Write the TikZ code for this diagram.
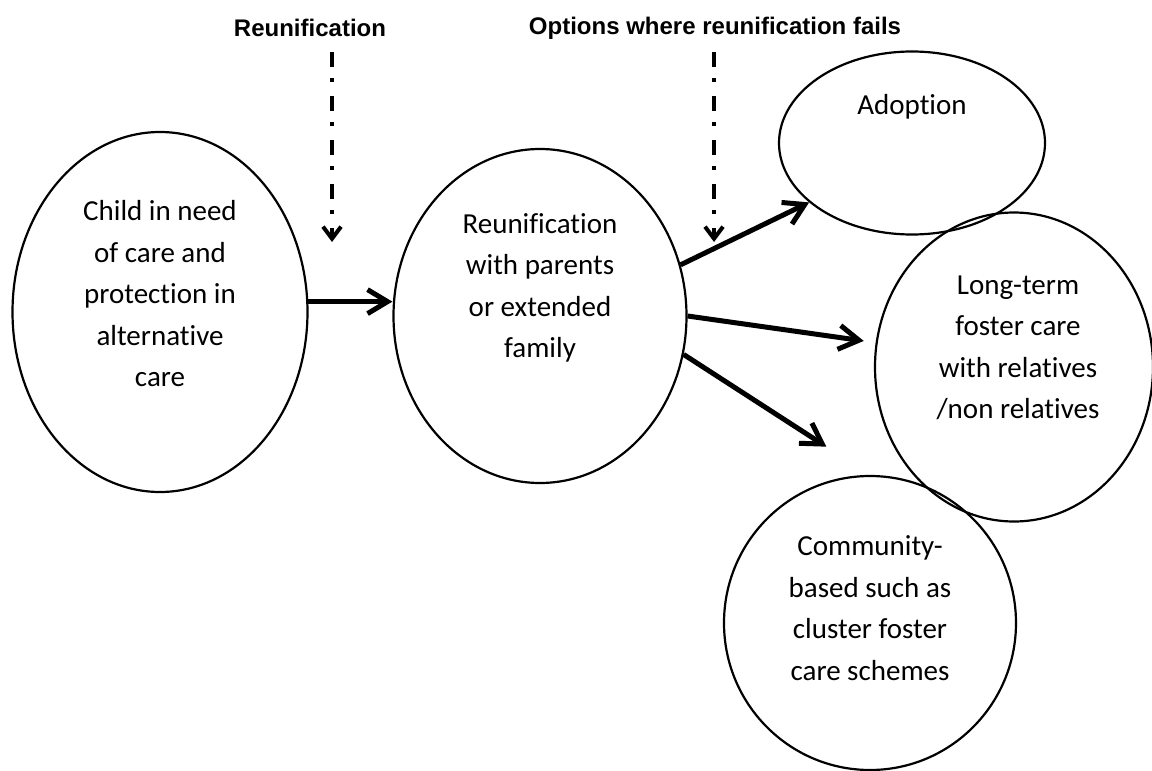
\documentclass[tikz,border=0pt]{standalone}
\usepackage{fontspec}
\setmainfont{Carlito}[Ligatures=NoCommon]
\newfontfamily\titlefont{Liberation Sans}
\usetikzlibrary{arrows.meta,shapes.geometric}
\begin{document}
\begin{tikzpicture}[x=.5pt, y=-.5pt, line join=round, >={Straight Barb[length=10pt,width=12pt]},
	oval/.style={ellipse, draw, line width=1.1pt, inner sep=0pt},
	txt/.style={align=center, font=\fontsize{14.5}{20.75}\selectfont},
	ttl/.style={font=\titlefont\bfseries\fontsize{12}{14}\selectfont},
	flow/.style={->, line width=2.5pt},
	hint/.style={-{Straight Barb[length=6pt,width=9pt]}, line width=2pt, dash pattern=on 7.5pt off 5.5pt on 2pt off 7pt}]
	\useasboundingbox (0,0) rectangle (1152,771);
	\node[ttl] (reuTitle) at (310,28) {Reunification};
	\node[ttl] (optTitle) at (715,28) {Options where reunification fails};
	\node[oval, minimum width=147.5pt, minimum height=180pt, label={[txt,yshift=9pt]center:Child in need\\of care and\\protection in\\alternative\\care}] (child) at (160,312) {};
	\node[oval, minimum width=146.5pt, minimum height=167pt, label={[txt,yshift=14pt]center:Reunification\\with parents\\or extended\\family}] (reunif) at (540,316) {};
	\node[oval, minimum width=133pt, minimum height=91.5pt, label={[txt,yshift=18pt]center:Adoption}] (adoption) at (912,143) {};
	\node[oval, minimum width=139pt, minimum height=154.5pt, label={[txt,yshift=9.5pt,xshift=2pt]center:Long-term\\foster care\\with relatives\\/non relatives}] (longterm) at (1014,367) {};
	\node[oval, minimum width=146pt, minimum height=147pt, label={[txt,yshift=7.5pt]center:Community-\\based such as\\cluster foster\\care schemes}] (community) at (870,623) {};
	\foreach \x/\n in {332/reu,714/opt} {
		\coordinate (\n Top) at (\x,52);
		\coordinate (\n Tip) at (\x,242);
		\draw[hint] (\n Top) -- (\n Tip);
	}
	\draw[flow] (child.4) -- (child.4 -| reunif.west);
	\draw[flow] (reunif.20) -- (adoption.210);
	\draw[flow, shorten >=6pt] (reunif.east) -- (longterm.170);
	\draw[flow, shorten >=26pt] (reunif.-15) -- (community.north);
\end{tikzpicture}
\end{document}
